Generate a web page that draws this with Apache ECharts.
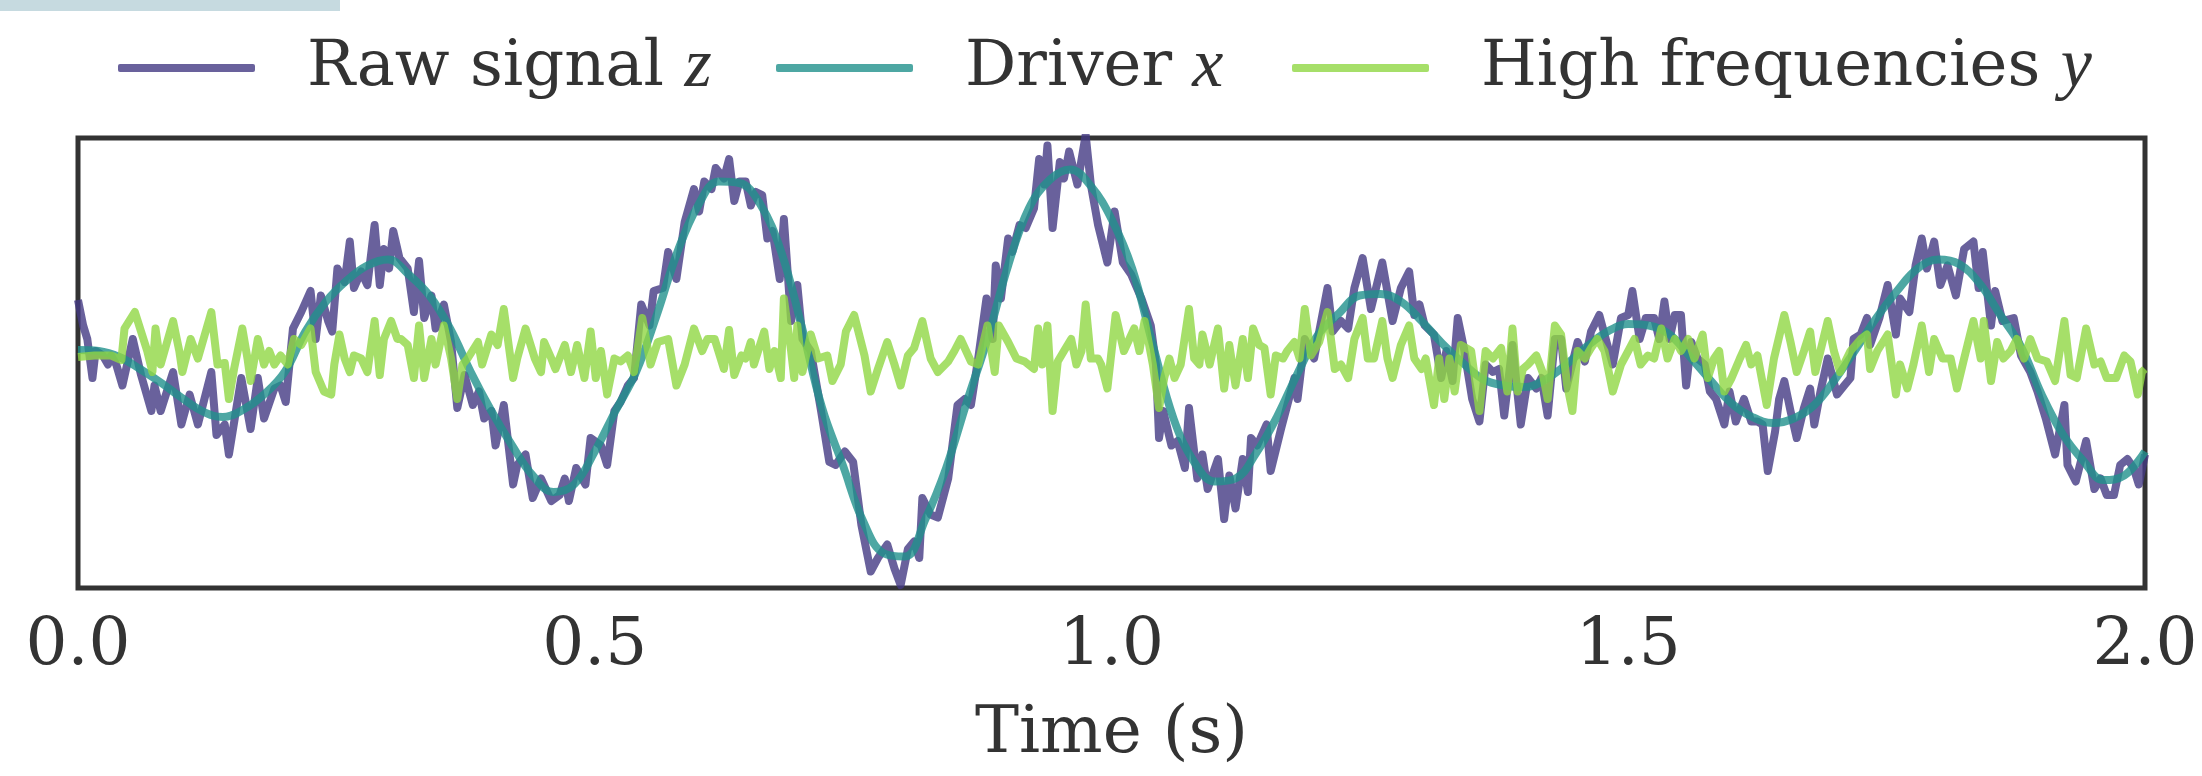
<!DOCTYPE html>
<html>
<head>
<meta charset="utf-8">
<script src="https://cdn.jsdelivr.net/npm/echarts@6/dist/echarts.min.js"></script>
<style>
html,body{margin:0;padding:0;background:#ffffff;}
#chart{width:2202px;height:776px;}
</style>
</head>
<body>
<div id="chart"></div>
<script>
// Tick labels of the time axis
const timeTicks = [0.0, 0.5, 1.0, 1.5, 2.0];
const seriesNames = ['Raw signal z', 'Driver x', 'High frequencies y'];

// Driver x : [time (s), value]
const driverX = [
[0,0.087],[0.02,0.08],[0.04,0.04],[0.06,-0.04],[0.08,-0.13],[0.10,-0.23],[0.12,-0.32],[0.14,-0.36],[0.16,-0.31],[0.18,-0.21],
[0.20,-0.06],[0.22,0.21],[0.24,0.41],[0.26,0.55],[0.28,0.65],[0.30,0.69],[0.32,0.59],[0.34,0.45],[0.36,0.23],[0.38,-0.06],
[0.40,-0.32],[0.42,-0.55],[0.44,-0.75],[0.46,-0.86],[0.48,-0.81],[0.50,-0.59],[0.52,-0.32],[0.54,-0.06],[0.56,0.32],[0.58,0.74],
[0.60,1.05],[0.62,1.21],[0.64,1.20],[0.66,1.06],[0.68,0.75],[0.70,0.25],[0.72,-0.30],[0.74,-0.68],[0.76,-1.06],[0.78,-1.27],
[0.80,-1.29],[0.82,-1.04],[0.84,-0.70],[0.86,-0.26],[0.88,0.16],[0.90,0.65],[0.92,1.03],[0.94,1.22],[0.96,1.29],[0.98,1.18],
[1.00,0.96],[1.02,0.63],[1.04,0.12],[1.06,-0.37],[1.08,-0.66],[1.10,-0.79],[1.12,-0.77],[1.14,-0.60],[1.16,-0.36],[1.18,-0.07],
[1.20,0.19],[1.22,0.33],[1.24,0.45],[1.26,0.46],[1.28,0.41],[1.30,0.28],[1.32,0.13],[1.34,0.00],[1.36,-0.11],[1.38,-0.15],
[1.40,-0.16],[1.42,-0.11],[1.44,-0.01],[1.46,0.11],[1.48,0.21],[1.50,0.26],[1.52,0.25],[1.54,0.19],[1.56,0.04],[1.58,-0.12],
[1.60,-0.27],[1.62,-0.36],[1.64,-0.40],[1.66,-0.37],[1.68,-0.28],[1.70,-0.11],[1.72,0.09],[1.74,0.30],[1.76,0.48],[1.78,0.63],
[1.80,0.69],[1.82,0.66],[1.84,0.53],[1.86,0.32],[1.88,0.11],[1.90,-0.21],[1.92,-0.47],[1.94,-0.65],[1.96,-0.78],[1.98,-0.75],
[2.00,-0.59]
];

// High frequencies y : [time (s), value]
const highY = [
[0,0.04],[0.016,0.05],[0.032,0.05],[0.042,0.02],[0.045,0.23],[0.055,0.34],[0.061,0.21],[0.067,0.08],[0.072,-0.06],[0.075,0.23],
[0.08,-0.01],[0.092,0.28],[0.098,0.08],[0.101,-0.06],[0.109,0.16],[0.116,0.03],[0.129,0.34],[0.135,-0.01],[0.142,0],[0.146,-0.24],
[0.151,-0.04],[0.159,0.23],[0.164,0.03],[0.167,-0.12],[0.174,0.16],[0.18,-0.01],[0.185,0.08],[0.19,-0.01],[0.196,0.05],[0.203,-0.01],
[0.209,0.16],[0.216,0.12],[0.225,0.23],[0.23,-0.06],[0.238,-0.19],[0.245,-0.21],[0.248,-0.01],[0.253,0.19],[0.258,0.03],[0.263,-0.06],
[0.267,0.05],[0.274,0.03],[0.28,-0.06],[0.287,0.28],[0.292,-0.08],[0.296,0.16],[0.303,0.28],[0.309,0.16],[0.3125,0.16],[0.319,0.12],
[0.325,-0.10],[0.33,0.25],[0.335,-0.10],[0.342,0.16],[0.346,-0.01],[0.354,0.25],[0.361,0.03],[0.367,-0.24],[0.372,-0.01],[0.377,0.03],
[0.387,0.14],[0.391,-0.01],[0.40,0.19],[0.406,0.12],[0.412,0.36],[0.421,-0.10],[0.425,0.03],[0.433,0.23],[0.442,0.03],[0.448,-0.06],
[0.451,0.14],[0.458,0.03],[0.462,-0.04],[0.471,0.12],[0.477,-0.06],[0.483,0.12],[0.49,-0.10],[0.496,0.21],[0.501,-0.10],[0.506,0.08],
[0.512,-0.21],[0.519,0.03],[0.525,0.01],[0.532,0.05],[0.538,-0.06],[0.546,0.30],[0.554,-0.01],[0.561,0.14],[0.571,0.16],[0.579,-0.15],
[0.587,-0.01],[0.596,0.23],[0.604,0.08],[0.609,0.16],[0.616,0.16],[0.625,-0.04],[0.63,0.22],[0.635,-0.08],[0.642,0.05],[0.646,0.03],
[0.651,0.14],[0.654,-0.01],[0.664,0.21],[0.669,-0.04],[0.674,0.08],[0.68,-0.10],[0.683,0.43],[0.69,0.08],[0.693,-0.10],[0.696,0.25],
[0.701,-0.06],[0.709,0.19],[0.716,0.03],[0.725,0.05],[0.73,-0.12],[0.738,-0.01],[0.743,0.21],[0.751,0.32],[0.761,0.05],[0.767,-0.19],
[0.774,-0.04],[0.783,0.14],[0.79,-0.01],[0.796,-0.15],[0.803,0.05],[0.809,0.10],[0.817,0.28],[0.825,0.03],[0.832,-0.06],[0.842,0.01],
[0.848,0.08],[0.854,0.16],[0.864,0.01],[0.871,-0.01],[0.88,0.25],[0.887,-0.06],[0.891,0.25],[0.90,0.14],[0.908,0.03],[0.916,0.01],
[0.925,-0.04],[0.929,0.23],[0.933,-0.01],[0.938,0.25],[0.943,-0.32],[0.948,0.01],[0.954,0.08],[0.961,0.16],[0.966,-0.01],[0.971,0.08],
[0.975,0.39],[0.98,0.03],[0.987,0.03],[0.99,-0.01],[0.996,-0.17],[1.004,0.32],[1.012,0.08],[1.022,0.23],[1.027,0.08],[1.032,0.28],
[1.04,-0.01],[1.046,-0.30],[1.051,-0.10],[1.056,0.03],[1.061,-0.10],[1.067,-0.01],[1.075,0.36],[1.08,0.03],[1.085,-0.01],[1.088,0.19],
[1.095,-0.01],[1.103,0.23],[1.109,-0.17],[1.114,0.12],[1.12,-0.15],[1.127,0.16],[1.132,-0.10],[1.137,0.23],[1.143,0.12],[1.148,0.10],
[1.154,-0.21],[1.159,0.05],[1.166,0.03],[1.17,0.08],[1.177,0.14],[1.182,0.03],[1.187,0.36],[1.193,0.05],[1.201,0.14],[1.209,0.34],
[1.216,-0.04],[1.222,-0.01],[1.229,-0.10],[1.235,0.16],[1.243,0.30],[1.248,0.03],[1.254,0.03],[1.262,0.28],[1.267,0.03],[1.272,-0.10],
[1.28,0.12],[1.288,0.25],[1.293,0.03],[1.30,-0.04],[1.304,0.03],[1.312,-0.28],[1.317,0.03],[1.322,-0.24],[1.327,0.03],[1.332,-0.19],
[1.338,0.12],[1.348,0.08],[1.356,-0.32],[1.362,0.08],[1.369,0.03],[1.377,0.10],[1.383,-0.19],[1.388,0.23],[1.393,-0.19],[1.398,-0.04],
[1.403,-0.01],[1.411,0.05],[1.417,-0.06],[1.422,-0.24],[1.429,0.25],[1.435,0.19],[1.441,-0.15],[1.446,-0.32],[1.451,0.08],[1.458,0.03],
[1.464,0.10],[1.47,0.16],[1.477,0.08],[1.485,-0.19],[1.493,-0.01],[1.50,0.08],[1.506,0.16],[1.512,-0.01],[1.519,0.05],[1.525,0.03],
[1.532,0.23],[1.538,0.03],[1.545,0.16],[1.551,0.08],[1.558,0.16],[1.564,0.03],[1.572,0.19],[1.577,-0.10],[1.583,0.03],[1.588,0.08],
[1.593,-0.19],[1.60,-0.10],[1.608,0.03],[1.614,0.12],[1.619,-0.01],[1.625,0.05],[1.634,-0.28],[1.641,0.03],[1.651,0.32],[1.657,0.14],
[1.663,-0.06],[1.67,0.08],[1.676,0.21],[1.681,-0.06],[1.693,0.28],[1.699,0.08],[1.705,-0.06],[1.715,0.08],[1.725,0.16],[1.731,0.19],
[1.734,-0.04],[1.741,0.08],[1.751,0.19],[1.759,-0.21],[1.763,-0.01],[1.77,-0.17],[1.776,-0.01],[1.784,0.25],[1.791,-0.06],[1.796,0.16],
[1.804,0.03],[1.812,0.03],[1.818,-0.17],[1.825,0.03],[1.834,0.28],[1.841,0.03],[1.844,0.28],[1.851,-0.12],[1.857,0.14],[1.863,0.03],
[1.87,0.08],[1.876,0.16],[1.883,0.03],[1.889,0.16],[1.896,0.03],[1.905,0.01],[1.913,-0.12],[1.922,0.28],[1.928,-0.08],[1.934,-0.10],
[1.943,0.23],[1.951,-0.01],[1.957,0.01],[1.963,-0.10],[1.972,-0.10],[1.98,0.05],[1.986,0.01],[1.993,-0.21],[1.997,-0.06],[2.0,-0.04]
];

// Raw signal z : [time (s), value]
const rawZ = [
[0,0.42],[0.005,0.25],[0.009,0.16],[0.014,-0.10],[0.017,0.08],[0.024,0.05],[0.029,-0.01],[0.032,0.05],[0.037,-0.01],[0.043,-0.15],
[0.053,0.16],[0.061,-0.08],[0.071,-0.32],[0.074,-0.15],[0.08,-0.32],[0.092,-0.06],[0.10,-0.41],[0.108,-0.21],[0.116,-0.41],[0.129,-0.06],
[0.134,-0.48],[0.142,-0.41],[0.146,-0.61],[0.158,-0.10],[0.167,-0.44],[0.174,-0.10],[0.18,-0.37],[0.19,-0.17],[0.196,-0.15],[0.201,-0.26],
[0.208,0.23],[0.216,0.34],[0.225,0.48],[0.23,0.16],[0.235,0.45],[0.242,0.28],[0.246,0.21],[0.251,0.63],[0.258,0.54],[0.263,0.81],
[0.267,0.50],[0.274,0.61],[0.28,0.52],[0.287,0.92],[0.292,0.52],[0.296,0.76],[0.301,0.63],[0.305,0.88],[0.311,0.70],[0.319,0.63],
[0.325,0.34],[0.33,0.68],[0.335,0.30],[0.342,0.45],[0.346,0.23],[0.354,0.39],[0.361,0.14],[0.367,-0.30],[0.374,-0.08],[0.382,-0.28],
[0.388,-0.19],[0.393,-0.37],[0.40,-0.32],[0.404,-0.55],[0.412,-0.28],[0.421,-0.81],[0.425,-0.68],[0.433,-0.61],[0.44,-0.90],[0.448,-0.77],
[0.458,-0.92],[0.466,-0.88],[0.471,-0.77],[0.475,-0.92],[0.482,-0.70],[0.491,-0.81],[0.496,-0.50],[0.506,-0.55],[0.512,-0.68],[0.519,-0.32],
[0.525,-0.26],[0.532,-0.15],[0.538,-0.10],[0.545,0.39],[0.553,0.25],[0.557,0.48],[0.566,0.50],[0.571,0.74],[0.579,0.56],[0.587,0.94],
[0.596,1.16],[0.601,1.01],[0.606,1.21],[0.613,1.16],[0.617,1.30],[0.625,1.23],[0.63,1.36],[0.635,1.08],[0.64,1.21],[0.646,1.21],
[0.651,1.05],[0.656,1.14],[0.662,1.12],[0.667,0.83],[0.672,0.88],[0.679,0.56],[0.683,0.96],[0.69,0.28],[0.696,0.52],[0.701,0.16],
[0.709,0.08],[0.719,-0.32],[0.727,-0.66],[0.733,-0.68],[0.742,-0.59],[0.75,-0.66],[0.758,-1.08],[0.767,-1.39],[0.774,-1.30],[0.783,-1.21],
[0.79,-1.37],[0.796,-1.48],[0.803,-1.24],[0.809,-1.19],[0.814,-1.30],[0.817,-0.90],[0.825,-1.01],[0.832,-1.03],[0.842,-0.77],[0.851,-0.28],
[0.858,-0.24],[0.864,-0.28],[0.871,0.03],[0.879,0.43],[0.885,0.16],[0.888,0.65],[0.893,0.43],[0.90,0.83],[0.904,0.74],[0.911,0.92],
[0.917,0.90],[0.925,1.03],[0.93,1.36],[0.935,1.19],[0.938,1.45],[0.943,0.90],[0.95,1.34],[0.954,1.23],[0.959,1.41],[0.967,1.19],
[0.975,1.52],[0.98,1.19],[0.987,0.92],[0.996,0.67],[1.003,1.01],[1.011,0.67],[1.019,0.59],[1.029,0.43],[1.038,0.25],[1.043,-0.01],
[1.046,-0.50],[1.05,-0.32],[1.058,-0.55],[1.064,-0.52],[1.071,-0.70],[1.075,-0.30],[1.083,-0.77],[1.088,-0.61],[1.093,-0.84],[1.103,-0.64],
[1.109,-1.04],[1.114,-0.75],[1.12,-0.97],[1.127,-0.64],[1.132,-0.86],[1.135,-0.50],[1.141,-0.55],[1.15,-0.41],[1.154,-0.72],[1.164,-0.44],
[1.177,-0.10],[1.18,-0.24],[1.187,0.16],[1.196,0.03],[1.209,0.50],[1.214,0.21],[1.222,0.28],[1.229,0.23],[1.235,0.50],[1.243,0.70],
[1.251,0.36],[1.262,0.67],[1.272,0.28],[1.28,0.50],[1.288,0.61],[1.293,0.32],[1.298,0.39],[1.303,0.25],[1.312,0.19],[1.319,-0.10],
[1.324,0.08],[1.33,-0.12],[1.335,0.30],[1.341,0.10],[1.349,-0.24],[1.356,-0.39],[1.362,-0.01],[1.369,-0.06],[1.375,-0.04],[1.38,-0.35],
[1.388,0.12],[1.396,-0.41],[1.403,-0.10],[1.411,-0.17],[1.416,-0.10],[1.422,-0.35],[1.429,0.16],[1.435,0.16],[1.44,-0.17],[1.451,0.14],
[1.458,0.01],[1.464,0.21],[1.472,0.32],[1.479,0.14],[1.485,-0.01],[1.493,0.30],[1.50,0.32],[1.504,0.48],[1.511,0.16],[1.517,0.30],
[1.525,0.30],[1.53,0.16],[1.535,0.41],[1.54,0.16],[1.545,0.32],[1.551,0.32],[1.556,-0.15],[1.561,0.14],[1.567,0.03],[1.574,-0.01],
[1.579,-0.19],[1.585,-0.24],[1.593,-0.41],[1.598,-0.19],[1.604,-0.39],[1.612,-0.24],[1.619,-0.39],[1.625,-0.39],[1.63,-0.41],[1.635,-0.72],
[1.642,-0.46],[1.646,-0.24],[1.651,-0.12],[1.657,-0.32],[1.663,-0.50],[1.67,-0.30],[1.676,-0.17],[1.68,-0.41],[1.686,-0.19],[1.693,0.03],
[1.702,-0.21],[1.709,-0.15],[1.715,-0.10],[1.718,0.16],[1.725,0.19],[1.731,0.30],[1.734,0.12],[1.743,0.30],[1.751,0.52],[1.759,0.19],
[1.763,0.43],[1.772,0.34],[1.778,0.65],[1.784,0.83],[1.789,0.63],[1.796,0.81],[1.802,0.52],[1.809,0.65],[1.817,0.45],[1.825,0.76],
[1.834,0.81],[1.839,0.50],[1.843,0.74],[1.851,0.25],[1.855,0.48],[1.862,0.28],[1.873,0.30],[1.88,0.05],[1.889,-0.06],[1.896,-0.19],
[1.904,-0.37],[1.913,-0.61],[1.922,-0.28],[1.925,-0.68],[1.933,-0.79],[1.943,-0.52],[1.951,-0.84],[1.957,-0.77],[1.963,-0.88],[1.97,-0.88],
[1.976,-0.68],[1.983,-0.64],[1.989,-0.70],[1.994,-0.81],[2.0,-0.61]
];

const colors = ['rgba(68,57,131,0.8)', 'rgba(33,145,140,0.8)', 'rgba(144,215,67,0.8)'];
const TEXT = '#333333';
const SERIF = '"DejaVu Serif", serif';

function legendAt(idx, left) {
  return {
    show: true,
    data: [{name: seriesNames[idx], icon: 'roundRect', itemStyle: {color: colors[idx], borderWidth: 0}}],
    left: left,
    top: 33,
    orient: 'horizontal',
    itemWidth: 137,
    itemHeight: 8,
    padding: 0,
    selectedMode: false,
    formatter: function (n) {
      const i = n.lastIndexOf(' ');
      return '{r|' + n.slice(0, i + 1) + '}{m|' + n.slice(i + 1) + '}';
    },
    textStyle: {
      color: TEXT,
      fontFamily: SERIF,
      fontSize: 64,
      padding: [0, 0, 0, 47],
      rich: {
        r: {color: TEXT, fontFamily: SERIF, fontSize: 64},
        m: {color: TEXT, fontFamily: '"Liberation Serif", serif', fontStyle: 'italic', fontSize: 70}
      }
    }
  };
}

const chart = echarts.init(document.getElementById('chart'), null, {renderer: 'canvas'});
chart.setOption({
  animation: false,
  backgroundColor: '#ffffff',
  color: colors,
  graphic: [{
    type: 'rect', left: 0, top: 0, z: 10,
    shape: {width: 340, height: 11},
    style: {fill: '#c6dae0'}
  }],
  legend: [legendAt(0, 118), legendAt(1, 776), legendAt(2, 1292)],
  grid: {
    left: 78, right: 57, top: 138, bottom: 188,
    show: true, borderColor: '#333333', borderWidth: 5, backgroundColor: 'transparent',
    containLabel: false
  },
  xAxis: {
    type: 'value', min: timeTicks[0], max: timeTicks[timeTicks.length - 1], interval: 0.5,
    axisLine: {show: false}, axisTick: {show: false}, splitLine: {show: false},
    axisLabel: {
      show: true, showMinLabel: true, showMaxLabel: true,
      formatter: function (v) { return v.toFixed(1); },
      fontFamily: SERIF, fontSize: 66, color: TEXT, margin: 26
    },
    name: 'Time (s)', nameLocation: 'middle', nameGap: 114,
    nameTextStyle: {fontFamily: SERIF, fontSize: 66, color: TEXT}
  },
  yAxis: {
    type: 'value', min: -1.5, max: 1.5, show: false,
    splitLine: {show: false}
  },
  series: [
    {
      name: seriesNames[0], type: 'line', data: rawZ, showSymbol: false, symbol: 'none',
      lineStyle: {width: 8, color: colors[0], join: 'round'}, itemStyle: {color: colors[0]},
      clip: true, z: 2
    },
    {
      name: seriesNames[1], type: 'line', data: driverX, showSymbol: false, symbol: 'none', smooth: 0.4,
      lineStyle: {width: 8, color: colors[1], join: 'round'}, itemStyle: {color: colors[1]},
      clip: true, z: 3
    },
    {
      name: seriesNames[2], type: 'line', data: highY, showSymbol: false, symbol: 'none',
      lineStyle: {width: 8, color: colors[2], join: 'round'}, itemStyle: {color: colors[2]},
      clip: true, z: 4
    }
  ]
});
</script>
</body>
</html>
